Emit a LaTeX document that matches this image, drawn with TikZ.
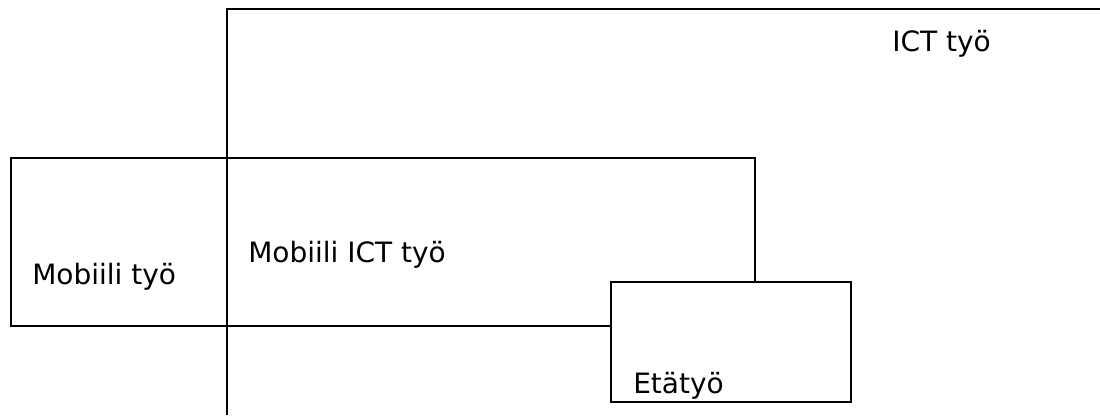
\documentclass[tikz,border=0pt]{standalone}
\usepackage{fontspec}
\setmainfont{DejaVu Sans}
\usepackage{tikz}
\tikzstyle{area} = [draw,line width=1.8pt]
\tikzstyle{areatext} = [anchor=base west,inner sep=0pt,font=\fontsize{21}{25}\selectfont]

\begin{document}
\begin{tikzpicture}[x=0.75pt,y=-0.75pt]
    \useasboundingbox (0,0) rectangle (1100,415);
    % First we draw the areas
    \path[area] (227,415) -- (227,9) -- (1100,9);
    \path[area] (11,158) rectangle (755,326);
    \path[area,fill=white] (611,282) rectangle (851,402);
    % Then the names of the areas
    \foreach \pos/\name/\txt in {{(892,51)/ict/ICT työ}, {(32,284)/mobiili/Mobiili työ}, {(248,262)/mobiiliict/Mobiili ICT työ}, {(633,393)/eta/Etätyö}}
       \node[areatext] (\name) at \pos {\txt};
\end{tikzpicture}
\end{document}
